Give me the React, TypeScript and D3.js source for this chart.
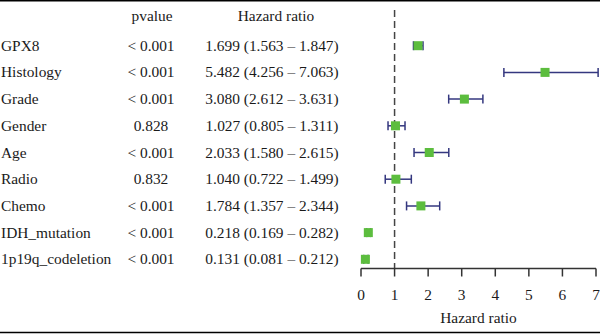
import React from "react";
import * as d3 from "d3";

const variables = ["GPX8", "Histology", "Grade", "Gender", "Age", "Radio", "Chemo", "IDH_mutation", "1p19q_codeletion"];
const pvalues = ["< 0.001", "< 0.001", "< 0.001", "0.828", "< 0.001", "0.832", "< 0.001", "< 0.001", "< 0.001"];
const hazard = [1.699, 5.482, 3.08, 1.027, 2.033, 1.04, 1.784, 0.218, 0.131];
const lower = [1.563, 4.256, 2.612, 0.805, 1.58, 0.722, 1.357, 0.169, 0.081];
const upper = [1.847, 7.063, 3.631, 1.311, 2.615, 1.499, 2.344, 0.282, 0.212];
const xTicks = [0, 1, 2, 3, 4, 5, 6, 7];

const W = 600;
const H = 335;
const FONT = "'Liberation Serif', 'DejaVu Serif', serif";
const GREEN = "#5cbd3e";
const NAVY = "#34377f";
const TEXT = "#1a1a1a";

export default function App() {
  const x = d3.scaleLinear().domain([0, 7]).range([361, 596]);
  const y = d3.scaleLinear().domain([0, variables.length - 1]).range([45.7, 259.3]);
  const axisY = 268.5;
  const fmt = d3.format(".3f");
  const box = 9;
  const cap = 4.5;

  return (
    <svg width={W} height={H} style={{ position: "absolute", left: 0, top: 0, background: "#fff" }} fontFamily={FONT} fontSize={15.4}>
      <line x1={0} x2={W} y1={0.75} y2={0.75} stroke="#000" strokeWidth={1.5} />
      <line x1={0} x2={W} y1={332.5} y2={332.5} stroke="#000" strokeWidth={1.5} />

      <text x={152} y={21} textAnchor="middle" fill={TEXT}>pvalue</text>
      <text x={276} y={21} textAnchor="middle" fill={TEXT}>Hazard ratio</text>

      {variables.map((v, i) => (
        <g key={v}>
          <text x={1} y={y(i) + 5} fill={TEXT}>{v}</text>
          <text x={151} y={y(i) + 5} textAnchor="middle" fill={TEXT}>{pvalues[i]}</text>
          <text x={272} y={y(i) + 5} textAnchor="middle" fill={TEXT}>
            {`${fmt(hazard[i])} (${fmt(lower[i])} – ${fmt(upper[i])})`}
          </text>
        </g>
      ))}

      <line x1={x(1)} x2={x(1)} y1={10} y2={axisY} stroke="#444" strokeWidth={1.5} strokeDasharray="7,4" />

      {variables.map((v, i) => (
        <g key={"m" + v}>
          <line x1={x(lower[i])} x2={x(upper[i])} y1={y(i)} y2={y(i)} stroke={NAVY} strokeWidth={1.5} />
          <line x1={x(lower[i])} x2={x(lower[i])} y1={y(i) - cap} y2={y(i) + cap} stroke={NAVY} strokeWidth={1.5} />
          <line x1={x(upper[i])} x2={x(upper[i])} y1={y(i) - cap} y2={y(i) + cap} stroke={NAVY} strokeWidth={1.5} />
          <rect x={x(hazard[i]) - box / 2} y={y(i) - box / 2} width={box} height={box} fill={GREEN} />
        </g>
      ))}

      <line x1={x(0)} x2={x(7)} y1={axisY} y2={axisY} stroke="#333" strokeWidth={1.5} />
      {xTicks.map((t) => (
        <g key={"t" + t}>
          <line x1={x(t)} x2={x(t)} y1={axisY} y2={axisY + 8} stroke="#333" strokeWidth={1.5} />
          <text x={x(t)} y={300} textAnchor="middle" fill={TEXT}>{t}</text>
        </g>
      ))}
      <text x={x(3.5)} y={323} textAnchor="middle" fill={TEXT}>Hazard ratio</text>
    </svg>
  );
}
